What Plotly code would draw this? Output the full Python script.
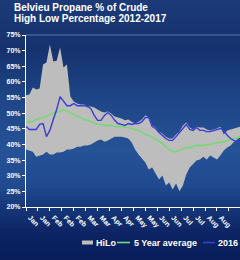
import numpy as np
import pandas as pd
import plotly.graph_objects as go

# ---------------- data ----------------
start_date = "2016-01-04"
n_points = 64
step = "4D"
dates = pd.date_range(start_date, periods=n_points, freq=step)

hilo_high = [55.7, 56.0, 58.2, 57.6, 57.9, 65.6, 66.2, 72.0, 66.5, 66.8,
             71.0, 64.6, 65.6, 55.3, 53.7, 53.1, 52.8, 52.8, 52.1, 52.1,
             51.8, 51.2, 50.5, 50.2, 50.5, 49.9, 48.9, 48.6, 48.3, 47.7,
             48.0, 47.3, 46.7, 47.3, 48.0, 49.3, 48.6, 46.1, 45.4, 44.1,
             43.5, 42.5, 41.9, 41.9, 43.2, 44.1, 46.1, 47.0, 45.4, 44.8,
             45.7, 45.4, 45.4, 44.8, 44.5, 44.8, 45.1, 45.7, 43.2, 44.5,
             44.8, 45.1, 45.4, 45.7]

hilo_low = [38.4, 38.1, 37.7, 36.1, 36.5, 36.8, 37.7, 36.8, 36.8, 37.4,
            37.4, 37.7, 38.4, 38.4, 38.7, 39.3, 39.3, 39.7, 39.7, 40.0,
            40.6, 41.3, 41.6, 40.9, 41.3, 41.9, 42.5, 42.5, 42.5, 42.2,
            41.9, 40.6, 38.4, 36.8, 35.5, 34.2, 32.0, 32.6, 30.7, 28.8,
            30.1, 26.9, 27.8, 25.6, 27.5, 25.0, 26.9, 30.4, 32.6, 33.9,
            34.9, 35.2, 36.1, 35.2, 36.5, 35.8, 35.2, 36.5, 38.1, 39.0,
            39.7, 40.9, 41.6, 42.5]

avg_5yr = [47.0, 47.3, 47.3, 48.0, 48.3, 48.6, 48.9, 49.6, 49.9, 50.5,
           50.5, 51.2, 50.5, 50.2, 49.6, 48.9, 48.6, 48.0, 47.7, 47.3,
           46.7, 46.4, 46.4, 46.1, 46.1, 46.1, 45.7, 45.7, 45.7, 45.4,
           45.4, 45.1, 44.8, 44.5, 43.8, 43.2, 42.9, 42.2, 41.6, 40.9,
           40.3, 39.3, 38.4, 37.7, 37.7, 38.1, 38.7, 39.0, 39.0, 39.3,
           39.7, 39.7, 39.7, 40.0, 40.0, 40.3, 40.6, 40.6, 40.9, 41.3,
           41.6, 41.9, 42.2, 42.5]

y2016 = [45.7, 44.8, 44.8, 44.8, 46.4, 46.7, 42.5, 44.5, 48.0, 51.2,
         55.3, 53.7, 52.4, 52.4, 53.1, 52.4, 52.4, 52.4, 52.1, 51.5,
         49.3, 47.7, 47.7, 49.3, 50.2, 49.3, 47.7, 46.7, 46.4, 46.1,
         46.7, 46.4, 46.7, 46.7, 47.3, 48.6, 48.6, 45.7, 45.1, 43.8,
         42.9, 41.9, 41.3, 41.3, 42.5, 43.8, 45.4, 46.4, 44.8, 44.5,
         45.4, 44.5, 44.5, 44.1, 44.1, 44.5, 44.8, 45.1, 44.5, 42.9,
         41.9, 41.3, 40.6, 41.6]

title_lines = ["Belvieu Propane % of Crude", "High Low Percentage 2012-2017"]
series_names = ["HiLo", "5 Year average", "2016"]
x_range = ["2016-01-04", "2016-09-11"]
y_range = [20, 75]

# ---------------- styling ----------------
W, H = 240, 260
L, R, T, B = 26, 0, 35, 53
FONT = "Arial, Liberation Sans, sans-serif"
GRAY = "#bdbdbd"
GREEN = "#78d878"
BLUE = "#3b3bd6"


def py2p(py):
    return (H - B - py) / (H - T - B)


def px2p(px):
    return (px - L) / (W - L - R)


# vertical background gradient (pixel y, rgb)
stops_y = [0, 50, 100, 150, 185, 210, 235, 260]
stops_c = [(28, 58, 120), (22, 50, 110), (30, 70, 135), (38, 82, 150),
           (32, 74, 144), (20, 52, 118), (12, 35, 98), (10, 30, 92)]

shapes = []
band = 4
for y0 in range(0, H, band):
    yc = y0 + band / 2
    col = [int(round(np.interp(yc, stops_y, [c[k] for c in stops_c]))) for k in range(3)]
    shapes.append(dict(type="rect", xref="paper", yref="paper",
                       x0=px2p(-2), x1=px2p(W + 2),
                       y0=py2p(y0 + band + 0.5), y1=py2p(y0),
                       fillcolor=f"rgb({col[0]},{col[1]},{col[2]})",
                       line=dict(width=0), layer="below"))

# faint top border of plot area
shapes.append(dict(type="line", xref="paper", yref="paper", x0=0, x1=1,
                   y0=1, y1=1, line=dict(color="rgba(150,170,225,0.55)", width=1)))

fig = go.Figure()
fig.add_trace(go.Scatter(x=dates, y=hilo_high, mode="lines", line=dict(width=0),
                         showlegend=False, hoverinfo="skip"))
fig.add_trace(go.Scatter(x=dates, y=hilo_low, mode="lines", line=dict(width=0),
                         fill="tonexty", fillcolor=GRAY, name=series_names[0],
                         showlegend=False))
fig.add_trace(go.Scatter(x=dates, y=avg_5yr, mode="lines",
                         line=dict(color=GREEN, width=1.6), name=series_names[1],
                         showlegend=False))
fig.add_trace(go.Scatter(x=dates, y=y2016, mode="lines",
                         line=dict(color=BLUE, width=1.4), name=series_names[2],
                         showlegend=False))

# custom compact legend
leg_y = 242.5
shapes.append(dict(type="rect", xref="paper", yref="paper",
                   x0=px2p(82), x1=px2p(93), y0=py2p(244.5), y1=py2p(240.5),
                   fillcolor=GRAY, line=dict(width=0)))
shapes.append(dict(type="line", xref="paper", yref="paper",
                   x0=px2p(117), x1=px2p(130), y0=py2p(leg_y), y1=py2p(leg_y),
                   line=dict(color=GREEN, width=1.6)))
shapes.append(dict(type="line", xref="paper", yref="paper",
                   x0=px2p(203), x1=px2p(215), y0=py2p(leg_y), y1=py2p(leg_y),
                   line=dict(color=BLUE, width=1.6)))

annotations = []
for txt, px in zip(series_names, [93.5, 131.5, 216]):
    annotations.append(dict(text=f"<b>{txt}</b>", xref="paper", yref="paper",
                            x=px2p(px), y=py2p(leg_y), xanchor="left", yanchor="middle",
                            showarrow=False,
                            font=dict(family=FONT, size=9, color="white", weight="bold")))
for txt, py in zip(title_lines, [7.5, 18.5]):
    annotations.append(dict(text=f"<b>{txt}</b>", xref="paper", yref="paper",
                            x=px2p(11.5), y=py2p(py), xanchor="left", yanchor="middle",
                            showarrow=False,
                            font=dict(family=FONT, size=10, color="white", weight="bold")))

fig.update_layout(
    width=W, height=H,
    margin=dict(l=L, r=R, t=T, b=B, pad=0),
    paper_bgcolor="rgb(20,45,105)",
    plot_bgcolor="rgba(0,0,0,0)",
    font=dict(family=FONT, color="white"),
    shapes=shapes,
    annotations=annotations,
    showlegend=False,
    xaxis=dict(range=x_range, type="date", tick0=start_date, dtick=14 * 86400000,
               tickformat="%b", tickangle=45, ticklabelshift=4, showgrid=False,
               zeroline=False, showline=True, linecolor="white", linewidth=1,
               ticks="outside", ticklen=3, tickcolor="white",
               tickfont=dict(family=FONT, size=7, color="white", weight="bold")),
    yaxis=dict(range=y_range, dtick=5, ticksuffix="%", showgrid=False, zeroline=False,
               showline=True, linecolor="white", linewidth=1,
               ticks="outside", ticklen=3, tickcolor="white",
               tickfont=dict(family=FONT, size=7, color="white", weight="bold")),
)

fig.write_html("out.html")
